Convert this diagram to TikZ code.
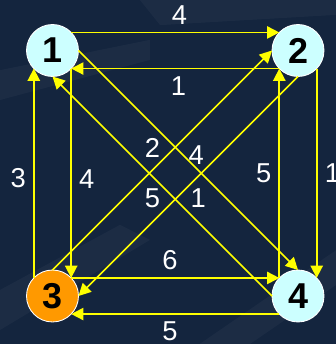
\documentclass[tikz,border=0pt]{standalone}
\usepackage{fontspec}
\setmainfont{Liberation Sans}
\usetikzlibrary{arrows.meta}
\definecolor{bg}{HTML}{14253E}
\definecolor{vtx}{HTML}{CCFFFF}
\definecolor{src}{HTML}{FF9900}
\definecolor{lineyel}{HTML}{FFFF00}

\begin{document}
\begin{tikzpicture}[
  vert/.style={circle,draw=white,line width=0.6pt,fill=vtx,minimum size=1.27cm,inner sep=0pt,outer sep=0pt,font=\fontsize{25}{30}\selectfont\bfseries},
  arr/.style={draw=lineyel,line width=1.2pt,-{Triangle[length=3mm,width=3mm]}},
  lbl/.style={text=white,font=\fontsize{19}{23}\selectfont,auto,inner sep=5pt},
  dlbl/.style={lbl,inner sep=1pt},
  band/.style={fill=white,opacity=0.035}]
\fill[bg] (-1.283,-1.173) rectangle (6.928,7.234);
\useasboundingbox (-1.283,-1.173) rectangle (6.928,7.234);
% faint background texture
\fill[band] (2.14,7.23) -- (6.93,7.23) -- (6.93,6.87) -- (2.63,6.62) -- cycle;
\fill[band] (-1.28,5.52) -- (2.38,6.26) -- (2.38,5.77) -- (-1.28,4.79) -- cycle;
\fill[band] (-1.28,0.15) -- (1.65,1.74) -- (2.38,1.37) -- (-1.28,-0.83) -- cycle;
\fill[band] (3.6,-1.17) -- (6.93,1.12) -- (6.93,0.27) -- (4.83,-1.17) -- cycle;
\node[vert] (v1) at (0,6) {1};
\node[vert] (v2) at (6,6) {2};
\node[vert,fill=src] (v3) at (0,0) {3};
\node[vert] (v4) at (6,0) {4};
% outer square
\draw[arr] (v1.44) -- node[lbl,pos=.52]{4} (v2.136);
\draw[arr] (v2.224) -- node[lbl,pos=.485]{1} (v1.316);
\draw[arr] (v3.136) -- node[lbl,pos=.475]{3} (v1.224);
\draw[arr] (v1.316) -- node[lbl,pos=.53]{4} (v3.44);
\draw[arr] (v4.136) -- node[lbl]{5} (v2.224);
\draw[arr] (v2.316) -- node[lbl]{1} (v4.44);
\draw[arr] (v3.44) -- node[lbl,pos=.475]{6} (v4.136);
\draw[arr] (v4.224) -- node[lbl,pos=.525]{5} (v3.316);
% diagonals
\draw[arr] (v1.0) -- node[dlbl,shift={(-0.05,-0.17)}]{4} (v4.90);
\draw[arr] (v4.180) -- node[dlbl]{5} (v1.270);
\draw[arr] (v3.90) -- node[dlbl]{2} (v2.180);
\draw[arr] (v2.270) -- node[dlbl]{1} (v3.0);
\end{tikzpicture}
\end{document}
